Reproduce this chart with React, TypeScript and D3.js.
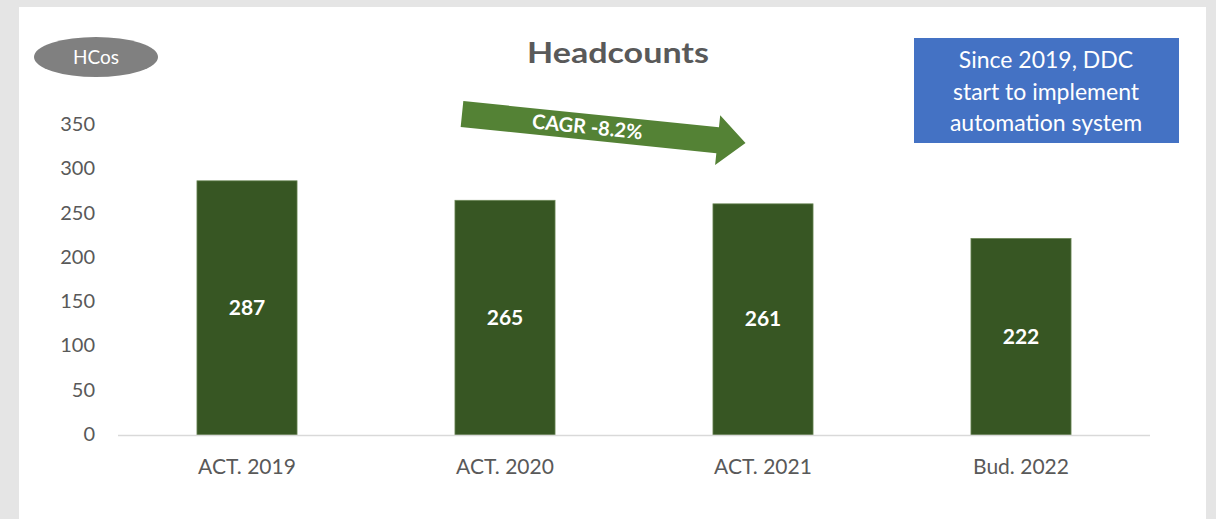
import React from "react";
import * as d3 from "d3";

const categories = ["ACT. 2019", "ACT. 2020", "ACT. 2021", "Bud. 2022"];
const headcounts = [287, 265, 261, 222];
const yTicks = [0, 50, 100, 150, 200, 250, 300, 350];
const titleText = "Headcounts";
const unitText = "HCos";
const noteLines = ["Since 2019, DDC", "start to implement", "automation system"];
const cagrText = "CAGR -8.2%";

const W = 1216;
const H = 519;
const FONT = "Lato, 'Open Sans', sans-serif";

export default function App() {
  const x = d3
    .scaleBand<string>()
    .domain(categories)
    .range([118, 1150])
    .paddingInner(0.612)
    .paddingOuter(0.306);
  const y = d3.scaleLinear().domain([0, 350]).range([435, 125]);

  // arrow geometry (local coords, then rotated)
  const ax = 462, ay = 114, ang = 5.85;
  const len = 285, bodyH = 26, headH = 50, headL = 28;
  const arrowPts = [
    [0, -bodyH / 2],
    [len - headL, -bodyH / 2],
    [len - headL, -headH / 2],
    [len, 0],
    [len - headL, headH / 2],
    [len - headL, bodyH / 2],
    [0, bodyH / 2],
  ];

  return (
    <svg width={W} height={H} style={{ position: "absolute", left: 0, top: 0 }}>
      <rect x={0} y={0} width={W} height={H} fill="#e5e5e5" />
      <rect x={19} y={7} width={1187} height={H - 7} fill="#ffffff" />

      {/* unit ellipse */}
      <ellipse cx={96} cy={57} rx={62} ry={20} fill="#808080" />
      <text x={96} y={64} textAnchor="middle" fill="#ffffff" fontFamily={FONT} fontSize={19}>
        {unitText}
      </text>

      {/* title */}
      <text
        x={527}
        y={63}
        fill="#595959"
        fontFamily={FONT}
        fontSize={28}
        fontWeight={700}
        textLength={182}
        lengthAdjust="spacingAndGlyphs"
      >
        {titleText}
      </text>

      {/* note box */}
      <rect x={914} y={38} width={265} height={105} fill="#4472c4" />
      {noteLines.map((t, i) => (
        <text key={i} x={1046} y={68 + i * 31.5} textAnchor="middle" fill="#ffffff" fontFamily={FONT} fontSize={23}>
          {t}
        </text>
      ))}

      {/* y axis ticks */}
      {yTicks.map((v) => (
        <text key={v} x={95} y={y(v) + 6} textAnchor="end" fill="#595959" fontFamily={FONT} fontSize={20}>
          {v}
        </text>
      ))}

      {/* bars */}
      {categories.map((c, i) => (
        <g key={c}>
          <rect
            x={x(c)!}
            y={y(headcounts[i])}
            width={x.bandwidth()}
            height={y(0) - y(headcounts[i])}
            fill="#375623"
            stroke="#6f8a5a"
            strokeWidth={0.75}
          />
          <text
            x={x(c)! + x.bandwidth() / 2}
            y={(y(headcounts[i]) + y(0)) / 2 + 7}
            textAnchor="middle"
            fill="#ffffff"
            fontFamily={FONT}
            fontSize={21}
            fontWeight={700}
          >
            {headcounts[i]}
          </text>
          <text
            x={x(c)! + x.bandwidth() / 2}
            y={474}
            textAnchor="middle"
            fill="#595959"
            fontFamily={FONT}
            fontSize={21}
          >
            {c}
          </text>
        </g>
      ))}

      {/* baseline */}
      <line x1={118} x2={1150} y1={435.5} y2={435.5} stroke="#d9d9d9" strokeWidth={1.5} />

      {/* CAGR arrow */}
      <g transform={`translate(${ax},${ay}) rotate(${ang})`}>
        <polygon points={arrowPts.map((p) => p.join(",")).join(" ")} fill="#548235" />
        <text x={126} y={7} textAnchor="middle" fill="#ffffff" fontFamily={FONT} fontSize={20} fontWeight={700}>
          {cagrText}
        </text>
      </g>
    </svg>
  );
}
